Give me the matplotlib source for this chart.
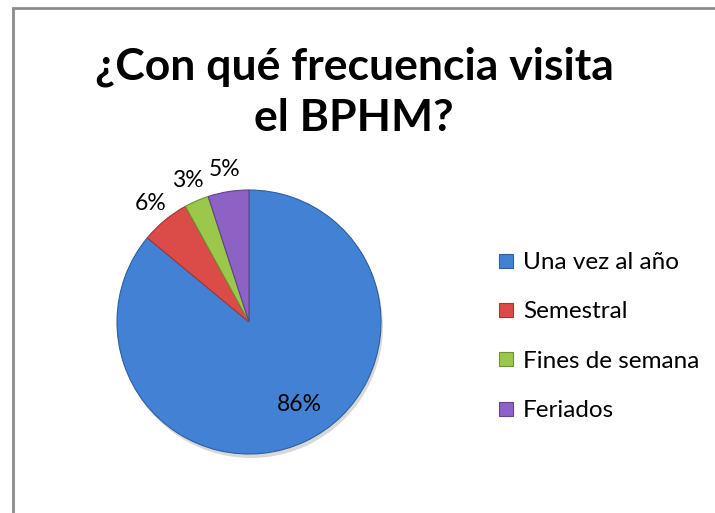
import matplotlib
matplotlib.use("Agg")
import matplotlib.pyplot as plt
from matplotlib.patches import Rectangle
from matplotlib.lines import Line2D
import numpy as np

categories = ["Una vez al año", "Semestral", "Fines de semana", "Feriados"]
values = [86, 6, 3, 5]
colors = ["#4281D4", "#DB4B48", "#9BC74A", "#8C62C4"]
edge_colors = ["#2E5F9E", "#A83532", "#6F9133", "#634391"]
title = "¿Con qué frecuencia visita\nel BPHM?"

W, H = 715, 513
fig = plt.figure(figsize=(W / 100, H / 100), dpi=100)
fig.patch.set_facecolor("white")

# outer chart border (left/top visible)
fig.add_artist(Rectangle((13 / W, -0.1), 1.2, (H - 8) / H + 0.1, transform=fig.transFigure,
                         fill=False, edgecolor="#8C8C8C", linewidth=2.0))

fig.text(354 / W, 1 - 92 / H, title, ha="center", va="center", fontsize=32,
         fontweight="bold", family="Lato", linespacing=1.32, color="black")

cx, cy, r = 249, 322, 132
ax = fig.add_axes([(cx - r) / W, (H - cy - r) / H, 2 * r / W, 2 * r / H])
ax.axis("off")

# soft shadow
ax.pie(values, radius=1.0, center=(0.015, -0.03), startangle=90, counterclock=False,
       colors=["#d8d8d8"] * len(values), wedgeprops=dict(linewidth=0))
wedges, _ = ax.pie(values, radius=1.0, startangle=90, counterclock=False, colors=colors,
                   wedgeprops=dict(linewidth=0.8))
for w, ec in zip(wedges, edge_colors):
    w.set_edgecolor(ec)
ax.set_xlim(-1, 1)
ax.set_ylim(-1, 1)
ax.set_aspect("equal")

total = sum(values)
for w, v in zip(wedges, values):
    ang = np.deg2rad((w.theta1 + w.theta2) / 2)
    if v / total > 0.5:
        x, y = 0.78 * np.cos(ang) + 0.05, 0.78 * np.sin(ang) + 0.08
    else:
        x, y = 1.17 * np.cos(ang), 1.17 * np.sin(ang)
    ax.text(x, y, f"{round(100 * v / total)}%",
            ha="center", va="center", fontsize=16.5, family="Lato", color="black")

handles = [Line2D([], [], linestyle="none", marker="s", markersize=10.5,
                  markerfacecolor=c, markeredgecolor=ec, markeredgewidth=0.8)
           for c, ec in zip(colors, edge_colors)]
leg = fig.legend(handles, categories, loc="upper left", bbox_to_anchor=(496 / W, 1 - 252 / H),
                 frameon=False, prop=dict(family="Lato", size=17.5), labelspacing=1.17,
                 handlelength=0.8, handletextpad=0.3, borderaxespad=0, borderpad=0)

fig.savefig("out.png", dpi=100)
